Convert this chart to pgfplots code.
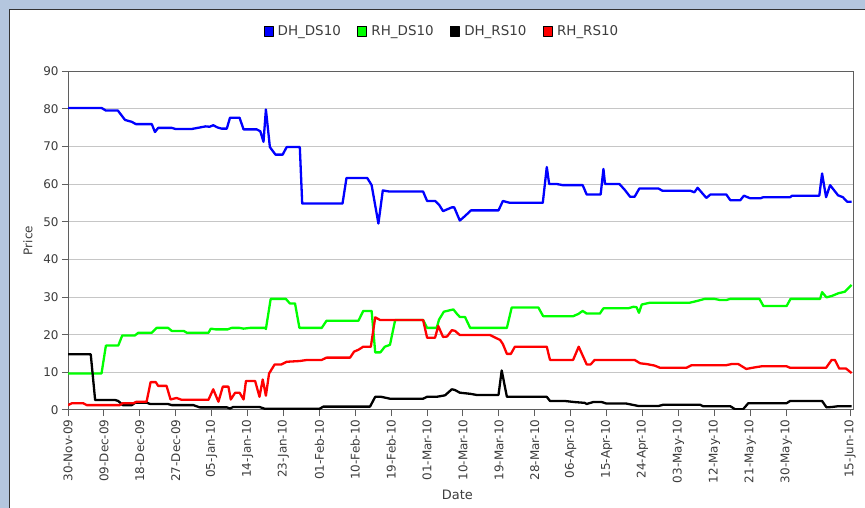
\documentclass[border=0pt]{standalone}
\usepackage{pgfplots}
\pgfplotsset{compat=1.18}
\usepackage{fontspec}
\setmainfont{DejaVu Sans}
\definecolor{bgblue}{RGB}{180,198,222}
\definecolor{axgray}{RGB}{95,95,95}
\definecolor{txtgray}{RGB}{60,60,60}
\newcommand\tickfont{\fontsize{12}{14}\selectfont}
\begin{document}
\begin{tikzpicture}
\fill[bgblue] (0,0) rectangle (865bp,508bp);
\fill[white] (9bp,0) rectangle (865bp,498bp);
\draw[black!80, line width=1bp] (9.5bp,0) -- (9.5bp,498.5bp) -- (865bp,498.5bp);
\begin{axis}[
  at={(68bp,98bp)}, anchor=south west,
  scale only axis, width=785bp, height=339bp,
  xmin=0, xmax=196.75, ymin=0, ymax=90,
  axis line style={axgray, line width=1bp},
  tick style={axgray, line width=1bp},
  major tick length=6bp, tick align=outside,
  xtick pos=bottom, ytick pos=left,
  ytick={0,10,...,90},
  ymajorgrids, major grid style={gray!45, line width=1bp},
  xtick={0,9,18,27,36,45,54,63,72,81,90,99,108,117,126,135,144,153,162,171,180,196},
  xticklabels={30-Nov-09,09-Dec-09,18-Dec-09,27-Dec-09,05-Jan-10,14-Jan-10,23-Jan-10,01-Feb-10,10-Feb-10,19-Feb-10,01-Mar-10,10-Mar-10,19-Mar-10,28-Mar-10,06-Apr-10,15-Apr-10,24-Apr-10,03-May-10,12-May-10,21-May-10,30-May-10,15-Jun-10},
  xticklabel style={rotate=90, anchor=east, font=\tickfont, text=txtgray},
  yticklabel style={font=\tickfont, text=txtgray},
  /pgf/number format/assume math mode=true,
  xlabel={Date}, ylabel={Price},
  xlabel style={at={(axis description cs:0.496,-0.251)}, anchor=center, font=\fontsize{13}{15}\selectfont, text=txtgray},
  ylabel style={at={(axis description cs:-0.051,0.5)}, anchor=center, font=\fontsize{12}{14}\selectfont, text=txtgray},
  legend columns=4,
  legend style={at={(axis description cs:0.476,1)}, anchor=center, yshift=40bp, draw=none, fill=none,
    font=\fontsize{13.5}{15}\selectfont, text=txtgray,
    /tikz/every odd column/.append style={column sep=3bp},
    /tikz/every even column/.append style={column sep=15bp},
    nodes={inner sep=1.5bp}},
  legend image code/.code={\draw[#1, fill, draw=black, line width=0.6bp] (0bp,-5bp) rectangle (9bp,5bp);},
  every axis plot/.append style={line width=2.3bp, line join=round},
]
\addplot[color={rgb,255:red,0;green,0;blue,255}] coordinates {
(0,80.2) (8.4,80.2) (9.5,79.5) (12.5,79.5) (14.3,77) (16,76.5) (17,75.9) (21,75.9) (21.8,73.8) (22.6,74.9) (26,74.9) (27,74.6) (31,74.6) (33,75) (34.5,75.3) (35.5,75.2) (36.4,75.6) (37.5,75) (38.5,74.7) (39.8,74.7) (40.6,77.6) (43,77.6) (44,74.5) (47.3,74.5) (48.2,74) (49,71.2) (49.6,79.8) (50.6,69.8) (52,67.8) (53.8,67.8) (54.8,69.8) (58.1,69.8) (58.7,54.8) (68.8,54.8) (69.8,61.6) (75,61.6) (76.1,59.7) (77.8,49.5) (78.9,58.3) (80.5,58) (89,58) (90,55.5) (92,55.5) (93,54.5) (94,52.8) (96.2,53.8) (96.8,53.8) (98.2,50.3) (99.5,51.5) (101,53) (107.9,53) (109,55.5) (110,55.2) (110.8,55) (119,55) (120,64.5) (120.6,60) (122.5,60) (124,59.7) (129,59.7) (130,57.2) (133.5,57.2) (134.2,64) (134.6,60) (138.2,60) (139.5,58.5) (140.9,56.6) (142,56.6) (143.2,58.8) (148,58.8) (149,58.2) (156,58.2) (157,57.8) (157.8,59) (160,56.3) (161,57.2) (165,57.2) (166,55.7) (168.5,55.7) (169.4,56.9) (171,56.2) (173.5,56.2) (174.3,56.5) (181,56.5) (181.5,56.9) (188.3,56.9) (189,62.8) (190,56.5) (191,59.7) (193,57) (194.2,56.5) (195.3,55.3) (196.4,55.3)
};
\addlegendentry{DH\_DS10}
\addplot[color={rgb,255:red,0;green,255;blue,0}] coordinates {
(0,9.7) (8.4,9.7) (9.5,17.1) (12.6,17.1) (13.6,19.8) (16.8,19.8) (17.6,20.5) (21,20.5) (22.2,21.8) (25.1,21.8) (26,21) (29,21) (29.8,20.5) (35.2,20.5) (35.8,21.6) (37,21.4) (40,21.4) (41,21.8) (43,21.8) (44,21.6) (45.6,21.8) (49.4,21.8) (49.6,21.5) (50.8,29.5) (54.6,29.5) (55.6,28.3) (56.9,28.3) (58,21.8) (63.6,21.8) (64.8,23.7) (72.8,23.7) (74,26.3) (76.1,26.3) (77,15.3) (78.3,15.3) (79.4,16.8) (80.7,17.3) (82,23.9) (89,23.9) (90,21.8) (92.4,21.8) (93,24) (94.2,26.1) (96.6,26.7) (97.5,25.5) (98.2,24.7) (99.5,24.7) (100.8,21.8) (110,21.8) (111.2,27.2) (117.9,27.2) (119.1,24.9) (126.6,24.9) (127.9,25.5) (129,26.3) (130,25.6) (133.3,25.6) (134.2,27) (140.4,27) (141.7,27.4) (142.5,27.3) (143.1,25.8) (143.8,28) (145.9,28.5) (155.9,28.5) (157.5,28.9) (159.6,29.5) (162,29.5) (163.4,29.2) (165,29.2) (166,29.5) (173.3,29.5) (174.3,27.6) (180.1,27.6) (181.1,29.5) (188.5,29.5) (189,31.3) (190.1,29.9) (191.5,30.3) (193.1,31) (194.7,31.4) (196.4,33.2)
};
\addlegendentry{RH\_DS10}
\addplot[color=black] coordinates {
(0,14.8) (5.7,14.8) (6.8,2.65) (11.8,2.65) (12.6,2.4) (13.7,1.3) (16,1.3) (16.8,1.9) (19.8,1.9) (20.6,1.6) (25,1.6) (26,1.3) (31.4,1.3) (33,0.7) (39.8,0.7) (40.6,0.4) (41.4,0.8) (48,0.8) (49.4,0.3) (63,0.3) (64,0.9) (75.7,0.9) (77,3.5) (78.5,3.5) (80.7,3) (89,3) (90,3.5) (92.4,3.5) (94.5,3.9) (96.2,5.5) (97,5.3) (98.2,4.6) (100.8,4.3) (102.4,4) (107.9,4) (108.7,10.5) (110,3.5) (120,3.5) (120.8,2.4) (124.5,2.4) (127,2.1) (129.5,1.9) (130,1.6) (131.6,2.1) (133.8,2.1) (135,1.7) (140,1.7) (143,1.06) (148,1.06) (149.2,1.4) (158.4,1.4) (159.2,1) (166,1) (167.2,0.2) (169.2,0.2) (170.5,1.8) (180.1,1.8) (181,2.4) (189,2.4) (190.1,0.7) (191.5,0.8) (193,1) (196.4,1)
};
\addlegendentry{DH\_RS10}
\addplot[color={rgb,255:red,255;green,0;blue,0}] coordinates {
(0,1.3) (1,1.8) (3.8,1.8) (4.7,1.3) (13,1.3) (13.7,1.8) (16.4,1.8) (17.2,2.2) (19.7,2.2) (20.7,7.4) (22,7.4) (22.6,6.4) (24.7,6.4) (25.7,2.8) (27.2,3.2) (28.5,2.7) (35.2,2.7) (36.4,5.5) (37.7,2.2) (38.8,6.2) (40.2,6.2) (40.8,2.8) (41.9,4.6) (43,4.6) (44,2.8) (44.6,7.7) (46.9,7.7) (48,3.5) (48.8,8.1) (49.6,3.8) (50.4,9.7) (51.8,12.1) (53.5,12.1) (54.8,12.8) (58,13) (60,13.3) (63.6,13.3) (64.8,13.9) (70.7,13.9) (71.7,15.5) (72.8,16) (74,16.8) (75.9,16.8) (77,24.6) (78.2,23.9) (89,23.9) (90,19.2) (92,19.2) (92.8,22.3) (94,19.4) (95,19.5) (96.2,21.2) (97,21) (98.2,19.9) (105.8,19.9) (107.5,19) (108.3,18.6) (109,17.5) (110,14.9) (111,14.9) (112,16.8) (120,16.8) (120.8,13.3) (126.6,13.3) (128,16.8) (130,12.1) (131,12.1) (132,13.3) (142,13.3) (143.4,12.4) (145,12.2) (147,11.8) (148.4,11.2) (155,11.2) (156.3,11.9) (165,11.9) (166.3,12.2) (168,12.2) (170,10.9) (171.5,11.2) (173.8,11.6) (180.1,11.6) (181,11.2) (190,11.2) (191.4,13.3) (192.2,13.3) (193.3,11) (195,11) (196.4,9.8)
};
\addlegendentry{RH\_RS10}
\end{axis}
\pgfresetboundingbox
\useasboundingbox (0,0) rectangle (865bp,508bp);
\end{tikzpicture}
\end{document}
